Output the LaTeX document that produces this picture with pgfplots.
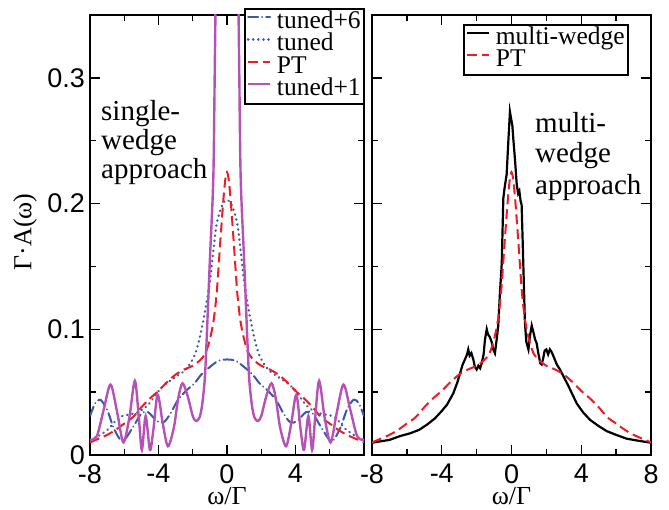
\documentclass[border=0pt]{standalone}
\usepackage{fontspec}
\setmainfont{Liberation Serif}
\setsansfont{Liberation Sans}
\usepackage{pgfplots}
\pgfplotsset{compat=1.18}
\definecolor{tblue}{RGB}{60,88,168}
\definecolor{ptred}{RGB}{237,28,36}
\definecolor{tmag}{RGB}{182,82,182}
\newcommand\ticfont{\fontsize{27bp}{27bp}\selectfont\sffamily}
\newcommand\labfont{\fontsize{26bp}{26bp}\selectfont\rmfamily}
\newcommand\legfont{\fontsize{25.5bp}{25.5bp}\selectfont\rmfamily}
\newcommand\annfont{\fontsize{29bp}{29bp}\selectfont\rmfamily}
\pgfplotsset{
  myaxis/.style={
    scale only axis, height=440bp,
    xmin=-8,xmax=8,ymin=0,ymax=0.35,
    ytick={0,0.1,0.2,0.3},
    minor ytick={0.05,0.15,0.25},
    minor xtick={-6,-2,2,6},
    tick align=inside,
    major tick length=10bp, minor tick length=6bp,
    tick style={black, line width=1.4bp},
    axis line style={line width=1.6bp},
    ticklabel style={font=\ticfont, inner sep=0.5bp},
    xticklabel style={yshift=-8.5bp},
    yticklabel style={xshift=-4.5bp},
    xlabel={ω/Γ},
    xlabel style={font=\labfont, inner sep=0pt, at={(axis description cs:0.5,-0.1136)}, anchor=base},
    legend image code/.code={\draw[##1] (0bp,6bp) -- (22bp,6bp);},
    legend style={font=\legfont, draw=black, line width=1.6bp, fill=white,
      inner sep=2bp, row sep=-1.5bp, column sep=4bp,
      nodes={text height=16bp, text depth=5bp, inner sep=1.5bp}},
    legend cell align=left,
  },
  ptstyle/.style={ptred, line width=2bp, dash pattern=on 10bp off 5bp},
}
\pgfplotstableread{
x y
-8 0.010
-7.5 0.013
-7 0.016
-6.5 0.020
-6 0.025
-5.5 0.030
-5 0.038
-4.5 0.045
-4 0.051
-3.5 0.058
-3 0.064
-2.5 0.068
-2 0.071
-1.6 0.075
-1.3 0.080
-1.1 0.087
-0.9 0.098
-0.75 0.110
-0.6 0.129
-0.5 0.148
-0.4 0.168
-0.3 0.187
-0.2 0.205
-0.1 0.219
0 0.225
0.1 0.219
0.2 0.205
0.3 0.187
0.4 0.168
0.5 0.148
0.6 0.129
0.75 0.110
0.9 0.098
1.1 0.087
1.3 0.080
1.6 0.075
2 0.071
2.5 0.068
3 0.064
3.5 0.058
4 0.051
4.5 0.045
5 0.038
5.5 0.030
6 0.025
6.5 0.020
7 0.016
7.5 0.013
8 0.010
}\PTdata
\pgfplotstableread{
x y
-8 0.012
-7.4 0.016
-6.9 0.021
-6.3 0.030
-5.8 0.032
-5.2 0.034
-4.6 0.040
-3.8 0.054
-3 0.062
-2.4 0.068
-1.9 0.079
-1.6 0.093
-1.3 0.113
-1.0 0.138
-0.8 0.162
-0.6 0.184
-0.3 0.198
0 0.203
0.3 0.198
0.6 0.184
0.8 0.162
1.0 0.138
1.3 0.113
1.6 0.093
1.9 0.079
2.4 0.068
3 0.062
3.8 0.054
4.6 0.040
5.2 0.034
5.8 0.032
6.3 0.030
6.9 0.021
7.4 0.016
8 0.012
}\tuned
\pgfplotstableread{
x y
-8 0.031
-7.7 0.041
-7.4 0.044
-7.0 0.036
-6.6 0.021
-6.1 0.011
-5.5 0.022
-5.0 0.033
-4.6 0.034
-4.1 0.027
-3.7 0.026
-3.3 0.033
-2.9 0.043
-2.4 0.051
-1.9 0.057
-1.5 0.064
-1.0 0.070
-0.5 0.075
0 0.076
0.5 0.075
1.0 0.070
1.5 0.064
1.9 0.057
2.4 0.051
2.9 0.043
3.3 0.033
3.7 0.026
4.1 0.027
4.6 0.034
5.0 0.033
5.5 0.022
6.1 0.011
6.6 0.021
7.0 0.036
7.4 0.044
7.7 0.041
8 0.031
}\tunedsix
\pgfplotstableread{
x y
-8 0.012
-7.6 0.015
-7.2 0.036
-6.8 0.056
-6.4 0.033
-6.05 0.010
-5.7 0.030
-5.38 0.059
-5.15 0.030
-4.97 0.004
-4.75 0.031
-4.5 0.004
-4.3 0.020
-4.05 0.048
-3.75 0.025
-3.45 0.007
-3.1 0.022
-2.85 0.045
-2.6 0.057
-2.3 0.047
-2.0 0.031
-1.8 0.027
-1.6 0.030
-1.45 0.040
-1.3 0.060
-1.2 0.088
-1.0 0.155
-0.8 0.220
-0.72 0.300
-0.65 0.380
-0.5 0.550
0 0.750
0.5 0.550
0.65 0.380
0.72 0.300
0.8 0.220
1.0 0.155
1.2 0.088
1.3 0.060
1.45 0.040
1.6 0.030
1.8 0.027
2.0 0.031
2.3 0.047
2.6 0.057
2.85 0.045
3.1 0.022
3.45 0.007
3.75 0.025
4.05 0.048
4.3 0.020
4.5 0.004
4.75 0.031
4.97 0.004
5.15 0.030
5.38 0.059
5.7 0.030
6.05 0.010
6.4 0.033
6.8 0.056
7.2 0.036
7.6 0.015
8 0.012
}\tunedone
\pgfplotstableread{
x y
-8 0.0098
-7 0.012
-6.4 0.015
-5.8 0.0173
-5.3 0.020
-4.86 0.024
-4.4 0.029
-4.0 0.035
-3.7 0.040
-3.34 0.049
-3.1 0.058
-2.95 0.065
-2.8 0.072
-2.67 0.076
-2.55 0.080
-2.48 0.084
-2.4 0.079
-2.3 0.081
-2.19 0.076
-2.1 0.070
-2.0 0.068
-1.9 0.071
-1.8 0.069
-1.71 0.073
-1.6 0.080
-1.52 0.092
-1.42 0.100
-1.35 0.096
-1.25 0.094
-1.14 0.090
-1.05 0.084
-0.95 0.081
-0.85 0.092
-0.76 0.103
-0.66 0.130
-0.56 0.152
-0.47 0.204
-0.42 0.210
-0.37 0.215
-0.28 0.223
-0.18 0.250
-0.09 0.273
-0.03 0.268
0.05 0.262
0.1 0.252
0.2 0.235
0.3 0.215
0.38 0.208
0.45 0.210
0.52 0.202
0.58 0.199
0.63 0.175
0.68 0.150
0.73 0.125
0.77 0.105
0.85 0.090
0.97 0.084
1.06 0.095
1.16 0.103
1.25 0.098
1.35 0.092
1.44 0.089
1.55 0.080
1.65 0.073
1.73 0.072
1.82 0.077
1.9 0.083
2.0 0.084
2.1 0.080
2.2 0.084
2.3 0.082
2.45 0.077
2.6 0.072
2.78 0.068
3.0 0.062
3.26 0.055
3.5 0.048
3.74 0.041
4.1 0.034
4.5 0.028
5.0 0.023
5.46 0.019
6.0 0.016
6.6 0.013
7.2 0.0115
7.94 0.0099
8 0.0097
}\multi
\begin{document}
\begin{tikzpicture}[x=1bp,y=1bp]
\begin{axis}[myaxis, at={(90bp,55bp)}, anchor=south west, width=274bp,
  xtick={-8,-4,0,4}, xticklabels={-8,-4,0,4},
  yticklabels={0,0.1,0.2,0.3},
  ylabel={Γ·A(ω)},
  ylabel style={font=\labfont, inner sep=0pt, at={(axis description cs:-0.237,0.507)}, anchor=center},
  legend style={at={(1,1)}, anchor=north east, xshift=1bp, yshift=7bp},
]
\addplot[tblue, line width=2bp, line cap=round, dash pattern=on 10bp off 4bp on 0.1bp off 4bp, smooth, tension=0.5] table[x=x,y=y] {\tunedsix};
\addlegendentry{tuned+6}
\addplot[tblue, line width=2.6bp, line cap=round, dash pattern=on 0.1bp off 5bp, smooth, tension=0.5] table[x=x,y=y] {\tuned};
\addlegendentry{tuned}
\addplot[ptstyle, smooth, tension=0.5] table[x=x,y=y] {\PTdata};
\addlegendentry{PT}
\addplot[tmag, line width=2.4bp, smooth, tension=0.5] table[x=x,y=y] {\tunedone};
\addlegendentry{tuned+1}
\end{axis}
\begin{axis}[myaxis, at={(372bp,55bp)}, anchor=south west, width=279bp,
  xtick={-8,-4,0,4,8}, xticklabels={-8,-4,0,4,8},
  yticklabels={},
  legend style={at={(1,1)}, anchor=north east, xshift=-22bp, yshift=-9bp},
]
\addplot[black, line width=2.2bp] table[x=x,y=y] {\multi};
\addlegendentry{multi-wedge}
\addplot[ptstyle, smooth, tension=0.5] table[x=x,y=y] {\PTdata};
\addlegendentry{PT}
\end{axis}
\node[font=\annfont, anchor=base west, inner sep=0pt] at (101bp,389bp) {single-};
\node[font=\annfont, anchor=base west, inner sep=0pt] at (101bp,360bp) {wedge};
\node[font=\annfont, anchor=base west, inner sep=0pt] at (101bp,331bp) {approach};
\node[font=\annfont, anchor=base west, inner sep=0pt] at (535bp,377bp) {multi-};
\node[font=\annfont, anchor=base west, inner sep=0pt] at (535bp,347bp) {wedge};
\node[font=\annfont, anchor=base west, inner sep=0pt] at (535bp,315bp) {approach};
\pgfresetboundingbox
\path[use as bounding box] (0,0) rectangle (669bp,510bp);
\end{tikzpicture}
\end{document}
